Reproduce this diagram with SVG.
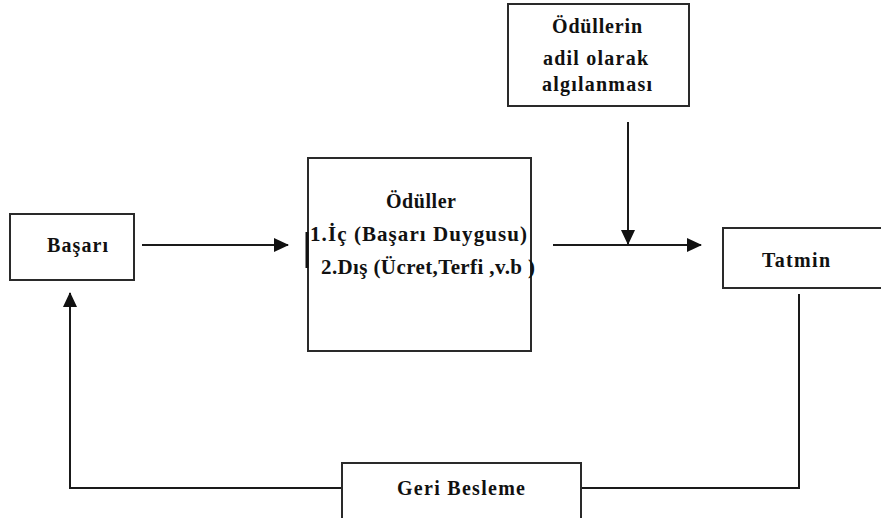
<svg xmlns="http://www.w3.org/2000/svg" width="881" height="518" viewBox="0 0 881 518">
<defs>
<style>
.box{fill:#fff;stroke:#2a2a2a;stroke-width:2}
.ln{fill:none;stroke:#1a1a1a;stroke-width:2}
.t{font-family:"Liberation Serif","Times New Roman",serif;font-weight:bold;font-size:20px;fill:#111}
.big{font-size:21px}
</style>
<marker id="ah" viewBox="0 0 15 14" refX="14" refY="7" markerWidth="15" markerHeight="14" markerUnits="userSpaceOnUse" orient="auto">
<path d="M0,0 L15,7 L0,14 Z" fill="#111"/>
</marker>
</defs>
<rect width="881" height="518" fill="#fff"/>
<g id="connectors">
<line class="ln" x1="142" y1="245" x2="288" y2="245" marker-end="url(#ah)"/>
<line class="ln" x1="553" y1="245" x2="701" y2="245" marker-end="url(#ah)"/>
<line class="ln" x1="628" y1="122" x2="628" y2="244" marker-end="url(#ah)"/>
<polyline class="ln" points="799,294 799,488 581,488"/>
<polyline class="ln" points="342,488 70,488 70,293" marker-end="url(#ah)"/>
</g>
<g id="basari">
<rect class="box" x="10" y="214" width="124" height="66"/>
<text class="t" x="47" y="252" textLength="61" lengthAdjust="spacing">Başarı</text>
</g>
<g id="oduller">
<rect class="box" x="308" y="158" width="223" height="193"/>
<line x1="307" y1="232" x2="307" y2="268" stroke="#111" stroke-width="3"/>
<text class="t" x="386" y="208" textLength="70" lengthAdjust="spacing">Ödüller</text>
<text class="t big" x="310" y="241" textLength="217" lengthAdjust="spacing">1.İç (Başarı Duygusu)</text>
<text class="t big" x="321" y="274" textLength="214" lengthAdjust="spacing">2.Dış (Ücret,Terfi ,v.b )</text>
</g>
<g id="adil">
<rect class="box" x="508" y="4" width="181" height="102"/>
<text class="t" x="552" y="33" textLength="90" lengthAdjust="spacing">Ödüllerin</text>
<text class="t" x="543" y="65" textLength="105" lengthAdjust="spacing">adil olarak</text>
<text class="t" x="542" y="91" textLength="110" lengthAdjust="spacing">algılanması</text>
</g>
<g id="tatmin">
<rect class="box" x="723" y="228" width="170" height="60"/>
<text class="t" x="762" y="267" textLength="68" lengthAdjust="spacing">Tatmin</text>
</g>
<g id="geri">
<rect class="box" x="342" y="463" width="239" height="62"/>
<text class="t" x="397" y="495" textLength="128" lengthAdjust="spacing">Geri Besleme</text>
</g>
</svg>
